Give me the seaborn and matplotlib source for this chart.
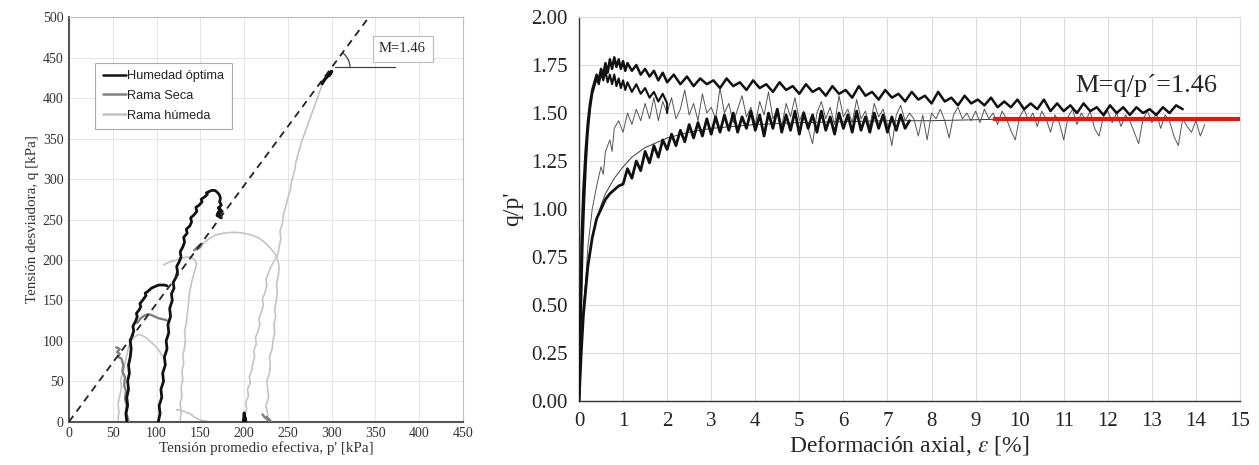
import matplotlib
matplotlib.use("Agg")
import matplotlib.pyplot as plt
from matplotlib.patches import Arc
from matplotlib.lines import Line2D
import seaborn as sns

sns.set_style("white")
plt.rcParams['font.family'] = ['Liberation Serif', 'DejaVu Serif']
plt.rcParams['mathtext.fontset'] = 'stix'

# ---------------- left panel data: stress paths (p', q) [kPa] ----------------
opt1_p = [66, 65, 67, 66, 68, 67, 69, 68, 70, 71, 70, 72, 74, 73, 76, 78, 77, 80, 82, 81, 84, 86, 88, 87, 90, 92, 94, 96, 98, 100, 103, 106, 109, 112]
opt1_q = [0, 10, 20, 30, 40, 50, 60, 70, 80, 90, 100, 106, 112, 118, 124, 130, 134, 138, 142, 146, 150, 153, 156, 159, 161, 163, 165, 166, 167, 168, 169, 169, 169, 168]

opt2_p = [102, 104, 103, 106, 105, 108, 107, 110, 109, 112, 111, 114, 113, 116, 115, 118, 117, 120, 119, 122, 124, 123, 126, 128, 127, 130, 132, 131, 135, 134, 138, 140, 139, 143, 146, 145, 149, 152, 151, 155, 158, 157, 161, 163, 166, 168, 170, 172, 173, 172, 174, 171, 175, 170, 173, 169, 174, 171]
opt2_q = [0, 10, 20, 30, 40, 50, 60, 70, 80, 90, 100, 110, 120, 130, 140, 150, 158, 165, 172, 178, 185, 192, 198, 204, 210, 216, 222, 228, 233, 238, 242, 247, 252, 256, 260, 265, 268, 272, 275, 278, 281, 283, 285, 286, 286, 285, 283, 280, 276, 272, 268, 264, 260, 258, 262, 255, 252, 265]

opt3_p = [289, 292, 295, 298, 300, 297, 299]
opt3_q = [418, 423, 427, 431, 433, 428, 432]
opt3b_p = [199, 200, 201, 200, 202]
opt3b_q = [0, 9, 3, 11, 1]

hum1_p = [200, 201, 203, 202, 205, 204, 207, 206, 209, 210, 212, 211, 214, 213, 216, 218, 217, 220, 222, 221, 224, 226, 225, 228, 230, 233, 236, 239, 240, 242, 241, 244, 245, 247, 249, 251, 253, 254, 256, 258, 259, 261, 263, 265, 267, 269, 271, 273, 275, 277, 279, 281, 283, 285, 287, 289, 291, 293, 295, 297]
hum1_q = [0, 8, 16, 24, 32, 40, 48, 56, 64, 72, 80, 88, 96, 104, 112, 120, 128, 136, 144, 152, 160, 168, 176, 184, 190, 196, 202, 208, 216, 226, 236, 246, 256, 264, 272, 280, 288, 296, 304, 312, 320, 328, 336, 344, 350, 356, 362, 368, 374, 380, 386, 392, 398, 404, 410, 416, 421, 425, 428, 431]

hum2_p = [226, 227, 225, 228, 227, 226, 229, 230, 229, 232, 233, 235, 234, 236, 235, 237, 238, 237, 239, 240, 239, 237, 233, 228, 222, 215, 208, 200, 192, 184, 176, 168, 161, 155, 150, 146]
hum2_q = [0, 10, 20, 30, 40, 50, 60, 70, 80, 90, 100, 110, 120, 130, 140, 150, 160, 170, 180, 190, 198, 205, 211, 217, 223, 228, 231, 233, 234, 234, 233, 231, 227, 222, 218, 216]

hum3_p = [127, 128, 127, 129, 128, 130, 129, 131, 130, 132, 133, 132, 134, 135, 136, 137, 138, 140, 142, 144, 146, 143, 138, 132, 126, 120, 114, 108]
hum3_q = [2, 12, 22, 32, 42, 52, 62, 72, 82, 92, 102, 112, 122, 132, 142, 152, 162, 172, 180, 188, 195, 201, 204, 203, 201, 199, 197, 194]

hum4_p = [56, 57, 56, 58, 60, 59, 62, 64, 66, 68, 71, 75, 80, 85, 90, 95, 100, 104, 108]
hum4_q = [2, 12, 22, 32, 42, 52, 62, 72, 82, 92, 100, 105, 108, 106, 102, 97, 92, 86, 80]

hum5_p = [123, 128, 133, 138, 143, 148, 154, 160]
hum5_q = [15, 14, 12, 10, 6, 3, 1, 0]

seca1_p = [54, 58, 55, 58, 56, 60, 62, 61, 64, 63, 65, 64, 66, 65, 67, 68]
seca1_q = [92, 90, 86, 84, 80, 78, 70, 62, 55, 45, 38, 28, 20, 12, 5, 0]
seca2_p = [78, 82, 86, 90, 94, 98, 102, 106, 110, 112]
seca2_q = [122, 128, 131, 133, 132, 130, 128, 127, 126, 125]
seca3_p = [143, 146, 149, 152, 150, 146]
seca3_q = [212, 215, 218, 220, 216, 213]
seca4_p = [221, 224, 227, 230, 226]
seca4_q = [9, 5, 3, 1, 6]

# ---------------- right panel data: (axial strain [%], q/p') ----------------
a_points = [(0.00, 0.00), (0.03, 0.45), (0.06, 0.85), (0.10, 1.10), (0.15, 1.30), (0.20, 1.45), (0.25, 1.55), (0.30, 1.62),
            (0.35, 1.66), (0.40, 1.70), (0.45, 1.67), (0.50, 1.73), (0.55, 1.70), (0.60, 1.76), (0.65, 1.71), (0.70, 1.78),
            (0.75, 1.73), (0.80, 1.79), (0.85, 1.74), (0.90, 1.78), (0.95, 1.73), (1.00, 1.77), (1.05, 1.72), (1.10, 1.76),
            (1.20, 1.72), (1.30, 1.75), (1.40, 1.70), (1.50, 1.73), (1.60, 1.69), (1.70, 1.72), (1.80, 1.67), (1.90, 1.71), (2.00, 1.66),
            (2.15, 1.70), (2.3, 1.65), (2.45, 1.69), (2.6, 1.64), (2.75, 1.68), (2.9, 1.65), (3.05, 1.67), (3.2, 1.63), (3.35, 1.68),
            (3.5, 1.64), (3.65, 1.66), (3.8, 1.62), (3.95, 1.67), (4.1, 1.63), (4.25, 1.65), (4.4, 1.61), (4.55, 1.66), (4.7, 1.62),
            (4.85, 1.64), (5.0, 1.60), (5.15, 1.65), (5.3, 1.61), (5.45, 1.63), (5.6, 1.59), (5.75, 1.64), (5.9, 1.60), (6.05, 1.62),
            (6.2, 1.58), (6.35, 1.64), (6.5, 1.59), (6.65, 1.61), (6.8, 1.57), (6.95, 1.62), (7.1, 1.58), (7.25, 1.60), (7.4, 1.56),
            (7.55, 1.61), (7.7, 1.57), (7.85, 1.59), (8.0, 1.55), (8.15, 1.61), (8.3, 1.56), (8.45, 1.58), (8.6, 1.54), (8.75, 1.59),
            (8.9, 1.55), (9.05, 1.57), (9.2, 1.54), (9.35, 1.58), (9.5, 1.53), (9.65, 1.56), (9.8, 1.53), (9.95, 1.57), (10.1, 1.52),
            (10.25, 1.55), (10.4, 1.52), (10.55, 1.57), (10.7, 1.51), (10.85, 1.55), (11.0, 1.51), (11.15, 1.54), (11.3, 1.50),
            (11.45, 1.55), (11.6, 1.51), (11.75, 1.53), (11.9, 1.49), (12.05, 1.54), (12.2, 1.50), (12.35, 1.53), (12.5, 1.49),
            (12.65, 1.53), (12.8, 1.50), (12.95, 1.52), (13.1, 1.49), (13.25, 1.53), (13.4, 1.50), (13.55, 1.54), (13.7, 1.52)]

b_points = [(0, 0), (0.04, 0.4), (0.08, 0.8), (0.12, 1.05), (0.16, 1.25), (0.2, 1.4), (0.25, 1.52), (0.3, 1.6), (0.35, 1.64),
            (0.4, 1.68), (0.45, 1.65), (0.5, 1.71), (0.55, 1.67), (0.6, 1.72), (0.65, 1.66), (0.7, 1.70), (0.75, 1.65), (0.8, 1.70),
            (0.85, 1.64), (0.9, 1.68), (0.95, 1.63), (1.0, 1.67), (1.05, 1.62), (1.1, 1.66), (1.2, 1.61), (1.3, 1.65), (1.4, 1.60),
            (1.5, 1.63), (1.6, 1.58), (1.7, 1.61), (1.8, 1.56), (1.9, 1.60), (2.0, 1.55), (2.0, 1.50)]

c_points = [(0, 0), (0.1, 0.45), (0.2, 0.8), (0.3, 1.0), (0.4, 1.12), (0.5, 1.22), (0.55, 1.18), (0.6, 1.3), (0.7, 1.36),
            (0.75, 1.30), (0.8, 1.42), (0.9, 1.46), (1.0, 1.40), (1.1, 1.50), (1.2, 1.44), (1.3, 1.52), (1.4, 1.46), (1.5, 1.55),
            (1.6, 1.47), (1.7, 1.58), (1.8, 1.46), (1.9, 1.56),
            (2.0, 1.50), (2.1, 1.58), (2.2, 1.47), (2.3, 1.52), (2.4, 1.62), (2.5, 1.49), (2.6, 1.55), (2.7, 1.46), (2.8, 1.60),
            (2.9, 1.50), (3.0, 1.53), (3.1, 1.47), (3.2, 1.63), (3.3, 1.50), (3.4, 1.55), (3.5, 1.45), (3.6, 1.52), (3.7, 1.59),
            (3.8, 1.48), (3.9, 1.53), (4.0, 1.44), (4.1, 1.56), (4.2, 1.49), (4.3, 1.61), (4.4, 1.47), (4.5, 1.52), (4.6, 1.43),
            (4.7, 1.55), (4.8, 1.48), (4.9, 1.58), (5.0, 1.46), (5.1, 1.51), (5.2, 1.42), (5.3, 1.34), (5.4, 1.50), (5.5, 1.56),
            (5.6, 1.47), (5.7, 1.53), (5.8, 1.44), (5.9, 1.59), (6.0, 1.48), (6.1, 1.52), (6.2, 1.45), (6.3, 1.57), (6.4, 1.47),
            (6.5, 1.51), (6.6, 1.43), (6.7, 1.55), (6.8, 1.48), (6.9, 1.52), (7.0, 1.44), (7.1, 1.33), (7.2, 1.49), (7.3, 1.54),
            (7.4, 1.46), (7.5, 1.50), (7.6, 1.47), (7.7, 1.38), (7.8, 1.49), (7.9, 1.36), (8.0, 1.50), (8.1, 1.47), (8.2, 1.52),
            (8.3, 1.46), (8.4, 1.37), (8.5, 1.49), (8.6, 1.53), (8.7, 1.47), (8.8, 1.50), (8.9, 1.46), (9.0, 1.51), (9.1, 1.45),
            (9.2, 1.52), (9.3, 1.47), (9.4, 1.50), (9.5, 1.44), (9.6, 1.51), (9.7, 1.47), (9.8, 1.41), (9.9, 1.36), (10.0, 1.48),
            (10.1, 1.52), (10.2, 1.46), (10.3, 1.50), (10.4, 1.43), (10.5, 1.51), (10.6, 1.47), (10.7, 1.40), (10.8, 1.49),
            (10.9, 1.45), (11.0, 1.36), (11.1, 1.48), (11.2, 1.52), (11.3, 1.44), (11.4, 1.50), (11.5, 1.46), (11.6, 1.51),
            (11.7, 1.42), (11.8, 1.38), (11.9, 1.48), (12.0, 1.51), (12.1, 1.45), (12.2, 1.50), (12.3, 1.43), (12.4, 1.49),
            (12.5, 1.46), (12.6, 1.40), (12.7, 1.34), (12.8, 1.47), (12.9, 1.51), (13.0, 1.45), (13.1, 1.50), (13.2, 1.42),
            (13.3, 1.49), (13.4, 1.46), (13.5, 1.38), (13.6, 1.33), (13.7, 1.47), (13.8, 1.43), (13.9, 1.40), (14.0, 1.46),
            (14.1, 1.38), (14.2, 1.44)]

d_points = [(0, 0), (0.05, 0.25), (0.1, 0.45), (0.2, 0.7), (0.3, 0.85), (0.4, 0.95), (0.5, 1.0), (0.6, 1.05), (0.7, 1.08),
            (0.8, 1.10), (0.9, 1.12),
            (1.0, 1.13), (1.1, 1.21), (1.2, 1.16), (1.3, 1.25), (1.4, 1.20), (1.5, 1.30), (1.6, 1.24), (1.7, 1.33), (1.8, 1.27),
            (1.9, 1.36), (2.0, 1.31), (2.1, 1.39), (2.2, 1.33), (2.3, 1.41), (2.4, 1.35), (2.5, 1.44), (2.6, 1.37), (2.7, 1.45),
            (2.8, 1.38), (2.9, 1.47), (3.0, 1.39), (3.1, 1.48), (3.2, 1.40), (3.3, 1.49), (3.4, 1.41), (3.5, 1.50), (3.6, 1.40),
            (3.7, 1.48), (3.8, 1.42), (3.9, 1.51), (4.0, 1.41), (4.1, 1.49), (4.2, 1.38), (4.3, 1.50), (4.4, 1.42), (4.5, 1.52),
            (4.6, 1.40), (4.7, 1.49), (4.8, 1.41), (4.9, 1.51), (5.0, 1.39), (5.1, 1.50), (5.2, 1.42), (5.3, 1.49), (5.4, 1.40),
            (5.5, 1.51), (5.6, 1.41), (5.7, 1.48), (5.8, 1.39), (5.9, 1.50), (6.0, 1.42), (6.1, 1.49), (6.2, 1.40), (6.3, 1.51),
            (6.4, 1.41), (6.5, 1.48), (6.6, 1.40), (6.7, 1.50), (6.8, 1.42), (6.9, 1.49), (7.0, 1.40), (7.1, 1.48), (7.2, 1.41),
            (7.3, 1.49), (7.4, 1.42), (7.5, 1.46)]

e_eps = [0, 0.05, 0.1, 0.15, 0.2, 0.3, 0.4, 0.5, 0.6, 0.8, 1.0, 1.2, 1.5, 2.0, 2.5, 3, 4, 5, 6, 7, 8, 9, 10, 11, 12, 13, 14, 14.2]
e_ratio = [0, 0.3, 0.5, 0.62, 0.72, 0.85, 0.95, 1.02, 1.08, 1.16, 1.22, 1.27, 1.32, 1.37, 1.40, 1.42, 1.44, 1.45, 1.455, 1.46, 1.46, 1.465, 1.47, 1.47, 1.47, 1.47, 1.47, 1.47]

m_line_eps = [9.4, 15.0]
m_line_ratio = [1.47, 1.47]

M_slope = 1.46
m_dash_p = [0, 342]

# ---------------- figure ----------------
fig = plt.figure(figsize=(12.59, 4.65), dpi=100)
ax1 = fig.add_axes([0.0548, 0.0931, 0.3129, 0.8697])
ax2 = fig.add_axes([0.4599, 0.1376, 0.5250, 0.8258])

BLACK = '#111111'
SECA = '#7f7f7f'
HUM = '#c4c4c4'


def draw(ax, x, y, color, lw, z=2):
    sns.lineplot(x=list(x), y=list(y), sort=False, estimator=None, color=color, lw=lw, ax=ax, zorder=z)


def draw_pts(ax, pts, color, lw, z=2):
    xs, ys = zip(*pts)
    draw(ax, xs, ys, color, lw, z)


# left panel
for px_, qy_ in [(hum1_p, hum1_q), (hum2_p, hum2_q), (hum3_p, hum3_q), (hum4_p, hum4_q), (hum5_p, hum5_q)]:
    draw(ax1, px_, qy_, HUM, 1.2, 2)
for px_, qy_ in [(seca1_p, seca1_q), (seca2_p, seca2_q), (seca3_p, seca3_q), (seca4_p, seca4_q)]:
    draw(ax1, px_, qy_, SECA, 1.7, 3)
for px_, qy_, lw in [(opt1_p, opt1_q, 2.0), (opt2_p, opt2_q, 2.0), (opt3_p, opt3_q, 2.4), (opt3b_p, opt3b_q, 2.0)]:
    draw(ax1, px_, qy_, BLACK, lw, 4)

dash_q = [M_slope * v for v in m_dash_p]
ax1.plot(m_dash_p, dash_q, color='#222222', lw=1.3, ls=(0, (4, 3)), zorder=5)
ax1.plot([304, 372], [438, 438], color='#404040', lw=0.9, zorder=5)
ax1.add_patch(Arc((300, 438), 42, 45, theta1=0, theta2=54, color='#404040', lw=0.9, zorder=5))
ax1.text(381, 461, "M=1.46", ha='center', va='center', fontsize=10.5,
         bbox=dict(boxstyle='square,pad=0.45', fc='white', ec='#c0c0c0', lw=0.9), zorder=6)

ax1.set_xlim(0, 450)
ax1.set_ylim(0, 500)
ax1.set_xticks(range(0, 451, 50))
ax1.set_yticks(range(0, 501, 50))
ax1.grid(True, color='#e6e6e6', lw=0.7)
ax1.tick_params(labelsize=10, length=0, pad=4, colors='#333333')
for s in ['left', 'bottom']:
    ax1.spines[s].set_color('#555555')
    ax1.spines[s].set_linewidth(1.5)
for s in ['top', 'right']:
    ax1.spines[s].set_color('#bfbfbf')
    ax1.spines[s].set_linewidth(0.8)
ax1.set_xlabel("Tensión promedio efectiva, p' [kPa]", fontsize=10.8, labelpad=1, color='#333333')
ax1.set_ylabel("Tensión desviadora, q [kPa]", fontsize=10.8, labelpad=3, color='#333333')

handles = [Line2D([], [], color=BLACK, lw=1.8), Line2D([], [], color=SECA, lw=1.8), Line2D([], [], color=HUM, lw=1.8)]
leg = ax1.legend(handles, ["Humedad óptima", "Rama Seca", "Rama húmeda"], loc='upper left',
                 bbox_to_anchor=(0.066, 0.888), borderaxespad=0, fancybox=False, framealpha=1,
                 edgecolor='#aaaaaa', handlelength=1.8, handletextpad=0.1, labelspacing=0.6,
                 borderpad=0.6, prop={'family': 'Liberation Sans', 'size': 9.2})
leg.get_frame().set_linewidth(0.8)
for t in leg.get_texts():
    t.set_color('#222222')

# right panel
draw(ax2, e_eps, e_ratio, '#3a3a3a', 0.7, 2)
draw_pts(ax2, c_points, '#555555', 0.7, 3)
draw_pts(ax2, d_points, BLACK, 2.0, 4)
draw_pts(ax2, b_points, BLACK, 1.5, 4)
draw_pts(ax2, a_points, BLACK, 1.8, 4)
ax2.plot(m_line_eps, m_line_ratio, color='#ee1111', lw=3, solid_capstyle='butt', zorder=6)
ax2.text(11.25, 1.645, "M=q/p´=1.46", fontsize=19, ha='left', va='center', zorder=7)

ax2.set_xlim(0, 15)
ax2.set_ylim(0, 2.0)
ax2.set_xticks(range(0, 16))
ax2.set_yticks([i * 0.25 for i in range(9)])
ax2.set_yticklabels([f"{i * 0.25:.2f}" for i in range(9)])
ax2.grid(True, color='#dcdcdc', lw=0.8)
ax2.tick_params(labelsize=15, length=5, width=0.9, direction='out', colors='#222222', pad=3)
for s in ['left', 'bottom']:
    ax2.spines[s].set_color('#333333')
    ax2.spines[s].set_linewidth(1.0)
for s in ['top', 'right']:
    ax2.spines[s].set_color('#dcdcdc')
    ax2.spines[s].set_linewidth(0.8)
ax2.set_xlabel(r"Deformación axial, $\varepsilon$ [%]", fontsize=17, labelpad=2)
ax2.set_ylabel("q/p'", fontsize=17, labelpad=6)

fig.savefig("out.png", dpi=100, facecolor='white')
